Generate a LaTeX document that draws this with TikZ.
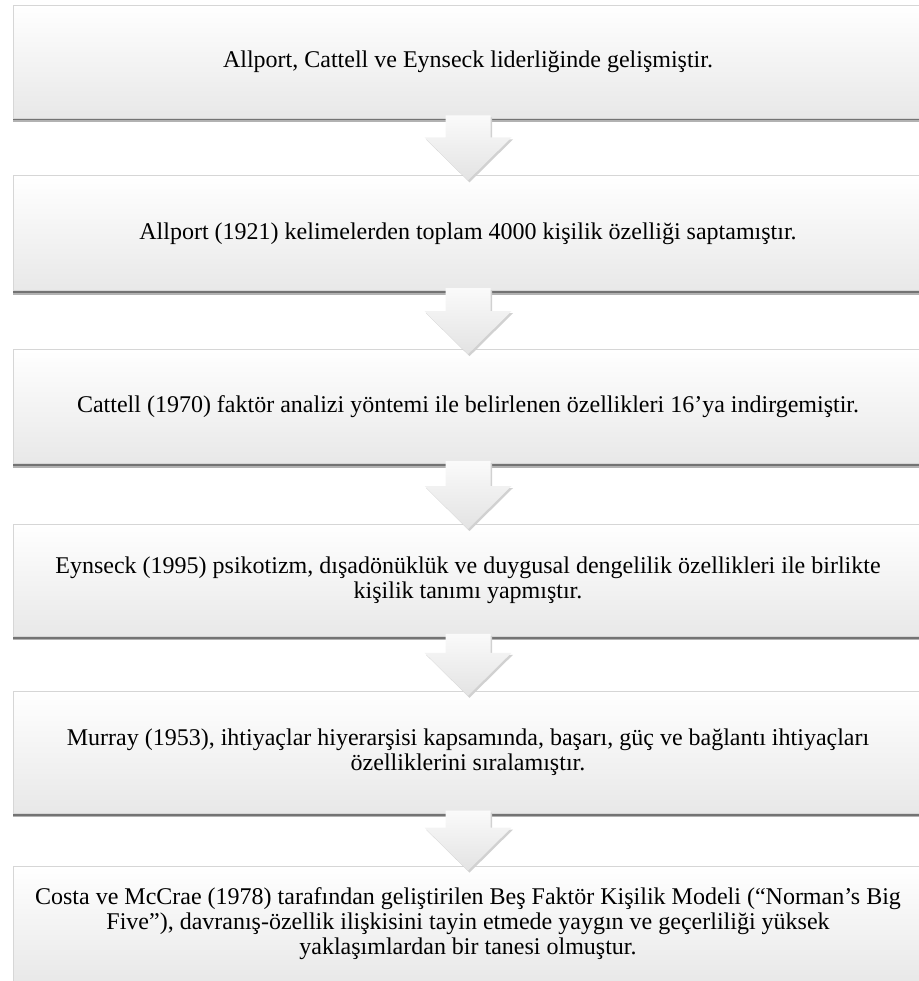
\documentclass[tikz,border=0pt]{standalone}
\usepackage{fontspec}
\setmainfont{Liberation Serif}
\usetikzlibrary{positioning, calc, shadows}
\definecolor{boxline}{RGB}{214,214,214}
\definecolor{shadegray}{RGB}{232,232,232}

\begin{document}
\begin{tikzpicture}[x=1pt, y=-1pt,
  box/.style={draw=boxline, line width=0.8pt, minimum width=910pt, inner sep=0pt,
              align=center, font=\fontsize{24}{25}\selectfont,
              top color=white, middle color=white!97!black, bottom color=shadegray,
              general shadow={shadow xshift=0pt, shadow yshift=-4pt, fill=black!30},
              general shadow={shadow xshift=0pt, shadow yshift=-2.5pt, fill=black!55}},
  arr/.style={top color=black!2, bottom color=black!11, draw=none,
              general shadow={shadow xshift=1.5pt, shadow yshift=-2pt, fill=black!18}}]
\useasboundingbox (0,0) rectangle (918,981);
\node[box, minimum height=113pt] (b1) at (468,61.5)
  {Allport, Cattell ve Eynseck liderliğinde gelişmiştir.};
\node[box, minimum height=115pt, below=57pt of b1] (b2)
  {Allport (1921) kelimelerden toplam 4000 kişilik özelliği saptamıştır.};
\node[box, minimum height=114pt, below=58pt of b2] (b3)
  {Cattell (1970) faktör analizi yöntemi ile belirlenen özellikleri 16’ya indirgemiştir.};
\node[box, minimum height=112pt, below=60pt of b3] (b4)
  {Eynseck (1995) psikotizm, dışadönüklük ve duygusal dengelilik özellikleri ile birlikte\\
   kişilik tanımı yapmıştır.};
\node[box, minimum height=122pt, below=54pt of b4] (b5)
  {Murray (1953), ihtiyaçlar hiyerarşisi kapsamında, başarı, güç ve bağlantı ihtiyaçları\\
   özelliklerini sıralamıştır.};
\node[box, minimum height=116pt, below=52pt of b5] (b6)
  {Costa ve McCrae (1978) tarafından geliştirilen Beş Faktör Kişilik Modeli (“Norman’s Big\\
   Five”), davranış-özellik ilişkisini tayin etmede yaygın ve geçerliliği yüksek\\
   yaklaşımlardan bir tanesi olmuştur.};
% chevron arrows between the boxes
\path[arr] ($(b1.south)+(-22.5,-3)$) -- ($(b2.north)+(-22.5,-38)$) -- ($(b2.north)+(-43.5,-38)$) -- ($(b2.north)+(0,5)$)
  -- ($(b2.north)+(43.5,-38)$) -- ($(b2.north)+(22.5,-38)$) -- ($(b1.south)+(22.5,-3)$) -- cycle;
\path[arr] ($(b2.south)+(-22.5,-3)$) -- ($(b3.north)+(-22.5,-38)$) -- ($(b3.north)+(-43.5,-38)$) -- ($(b3.north)+(0,5)$)
  -- ($(b3.north)+(43.5,-38)$) -- ($(b3.north)+(22.5,-38)$) -- ($(b2.south)+(22.5,-3)$) -- cycle;
\path[arr] ($(b3.south)+(-22.5,-3)$) -- ($(b4.north)+(-22.5,-38)$) -- ($(b4.north)+(-43.5,-38)$) -- ($(b4.north)+(0,5)$)
  -- ($(b4.north)+(43.5,-38)$) -- ($(b4.north)+(22.5,-38)$) -- ($(b3.south)+(22.5,-3)$) -- cycle;
\path[arr] ($(b4.south)+(-22.5,-3)$) -- ($(b5.north)+(-22.5,-38)$) -- ($(b5.north)+(-43.5,-38)$) -- ($(b5.north)+(0,5)$)
  -- ($(b5.north)+(43.5,-38)$) -- ($(b5.north)+(22.5,-38)$) -- ($(b4.south)+(22.5,-3)$) -- cycle;
\path[arr] ($(b5.south)+(-22.5,-3)$) -- ($(b6.north)+(-22.5,-38)$) -- ($(b6.north)+(-43.5,-38)$) -- ($(b6.north)+(0,5)$)
  -- ($(b6.north)+(43.5,-38)$) -- ($(b6.north)+(22.5,-38)$) -- ($(b5.south)+(22.5,-3)$) -- cycle;
\end{tikzpicture}
\end{document}
